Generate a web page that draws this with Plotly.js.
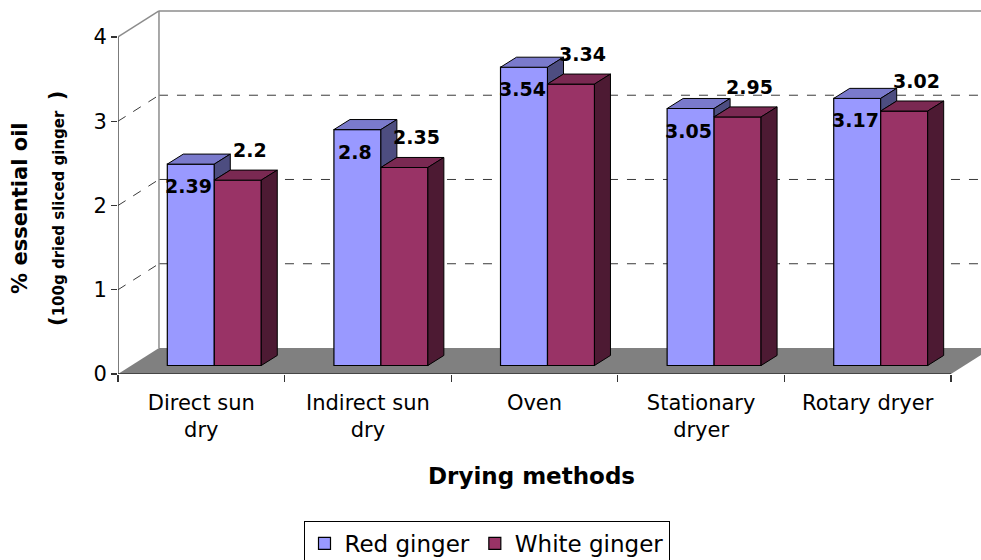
<!DOCTYPE html>
<html>
<head>
<meta charset="utf-8">
<script src="https://cdn.plot.ly/plotly-3.0.1.min.js"></script>
<style>html,body{margin:0;padding:0;background:#fff;}</style>
</head>
<body>
<div id="chart" style="width:981px;height:560px;"></div>
<script>
// ---- data ----
const categories = ['Direct sun dry', 'Indirect sun dry', 'Oven', 'Stationary dryer', 'Rotary dryer'];
const tickLabels = ['Direct sun<br>dry', 'Indirect sun<br>dry', 'Oven', 'Stationary<br>dryer', 'Rotary dryer'];
const redGinger = [2.39, 2.8, 3.54, 3.05, 3.17];
const whiteGinger = [2.2, 2.35, 3.34, 2.95, 3.02];
const yTicks = [0, 1, 2, 3, 4];
const seriesNames = ['Red ginger', 'White ginger'];

// ---- style / geometry ----
const FONT = 'DejaVu Sans';
const RED = '#9999FF', RED_TOP = '#7A7ACC', RED_SIDE = '#4D4D80';
const WHT = '#993366', WHT_TOP = '#7A2952', WHT_SIDE = '#4D1A33';
const WALL_DX = 0.246, WALL_DY = 0.3086;   // depth of the 3D box (axis units)
const BAR_DX = 0.096, BAR_DY = 0.119;      // depth of each bar (axis units)
const BARGAP = 0.436;
const BW = (1 - BARGAP) / 2;
const X_RANGE = [-0.5, 4.68];
const Y_RANGE = [0, 4.332];
const X2_RANGE = [X_RANGE[0] - 0.078, X_RANGE[1] - 0.078];
const Y2_RANGE = [Y_RANGE[0] - 0.101, Y_RANGE[1] - 0.101];

const idx = categories.map((c, i) => i);
const n = categories.length;
const xLeft = -0.5, xRight = n - 0.5;
const yMax = yTicks[yTicks.length - 1];

function polyTrace(polys, fill) {
  const xs = [], ys = [];
  polys.forEach(p => { p.forEach(pt => { xs.push(pt[0]); ys.push(pt[1]); }); xs.push(p[0][0]); ys.push(p[0][1]); xs.push(null); ys.push(null); });
  return { type: 'scatter', mode: 'lines', x: xs, y: ys, fill: 'toself', fillcolor: fill,
    line: { color: '#000', width: 1 }, xaxis: 'x2', yaxis: 'y2', showlegend: false, hoverinfo: 'skip' };
}

const redTop = idx.map(i => { const v = redGinger[i]; return [[i - BW, v], [i, v], [i + BAR_DX, v + BAR_DY], [i - BW + BAR_DX, v + BAR_DY]]; });
const redSide = idx.filter(i => redGinger[i] > whiteGinger[i]).map(i => { const v = redGinger[i], w = whiteGinger[i]; return [[i, w], [i, v], [i + BAR_DX, v + BAR_DY], [i + BAR_DX, w + BAR_DY]]; });
const whtTop = idx.map(i => { const w = whiteGinger[i]; return [[i, w], [i + BW, w], [i + BW + BAR_DX, w + BAR_DY], [i + BAR_DX, w + BAR_DY]]; });
const whtSide = idx.map(i => { const w = whiteGinger[i]; return [[i + BW, 0], [i + BW, w], [i + BW + BAR_DX, w + BAR_DY], [i + BW + BAR_DX, BAR_DY]]; });

const traces = [
  { type: 'bar', name: seriesNames[0], x: idx, y: redGinger, xaxis: 'x2', yaxis: 'y2',
    marker: { color: RED, line: { color: '#000', width: 1.2 } }, hoverinfo: 'y' },
  { type: 'bar', name: seriesNames[1], x: idx, y: whiteGinger, xaxis: 'x2', yaxis: 'y2',
    marker: { color: WHT, line: { color: '#000', width: 1.2 } }, hoverinfo: 'y' },
  polyTrace(redTop, RED_TOP),
  polyTrace(redSide, RED_SIDE),
  polyTrace(whtTop, WHT_TOP),
  polyTrace(whtSide, WHT_SIDE)
];

// ---- 3D box: floor, walls, gridlines ----
const shapes = [];
shapes.push({ type: 'path', xref: 'x', yref: 'y', layer: 'below',
  path: `M${xLeft},0 L${xRight},0 L${xRight + WALL_DX},${WALL_DY} L${xLeft + WALL_DX},${WALL_DY} Z`,
  fillcolor: '#808080', line: { width: 0 } });
yTicks.filter(t => t > 0).forEach(t => {
  const top = t === yMax;
  const ln = top ? { color: '#8c8c8c', width: 1.5 } : { color: '#3a3a3a', width: 1, dash: 'dash' };
  shapes.push({ type: 'line', xref: 'x', yref: 'y', layer: 'below', x0: xLeft, y0: t, x1: xLeft + WALL_DX, y1: t + WALL_DY, line: ln });
  shapes.push({ type: 'line', xref: 'x', yref: 'y', layer: 'below', x0: xLeft + WALL_DX, y0: t + WALL_DY, x1: X_RANGE[1] + 1, y1: t + WALL_DY, line: ln });
});
shapes.push({ type: 'line', xref: 'x', yref: 'y', layer: 'below', x0: xLeft + WALL_DX, y0: WALL_DY, x1: xLeft + WALL_DX, y1: yMax + WALL_DY, line: { color: '#8c8c8c', width: 1.5 } });
// front axes
shapes.push({ type: 'line', xref: 'x', yref: 'y', layer: 'above', x0: xLeft, y0: 0, x1: xRight, y1: 0, line: { color: '#333', width: 1.3 } });
shapes.push({ type: 'line', xref: 'x', yref: 'y', layer: 'above', x0: xLeft, y0: 0, x1: xLeft, y1: yMax, line: { color: '#333', width: 1.3 } });

// ---- annotations: data labels and axis titles ----
const annotations = [];
const lblFont = { family: FONT, size: 19, color: '#000', weight: 'bold' };
idx.forEach(i => {
  annotations.push({ xref: 'x2', yref: 'y2', x: i - BW / 2, y: redGinger[i], text: String(redGinger[i]),
    showarrow: false, yshift: -22, xshift: -2, font: lblFont });
  annotations.push({ xref: 'x2', yref: 'y2', x: i + BW / 2, y: whiteGinger[i], text: String(whiteGinger[i]),
    showarrow: false, yshift: 30, xshift: 12, font: lblFont });
});
annotations.push({ xref: 'paper', yref: 'paper', x: 0.4786, y: -0.279, text: 'Drying methods', showarrow: false,
  xanchor: 'center', yanchor: 'middle', font: { family: FONT, size: 23, color: '#000', weight: 'bold' } });
annotations.push({ xref: 'paper', yref: 'paper', x: -0.1136, y: 0.4548, text: '% essential oil', showarrow: false,
  textangle: -90, xanchor: 'center', yanchor: 'middle', font: { family: FONT, size: 21, color: '#000', weight: 'bold' } });
annotations.push({ xref: 'paper', yref: 'paper', x: -0.0707, y: 0.4548,
  text: '<span style="font-size:21px">(</span>100g dried sliced ginger  <span style="font-size:21px">)</span>', showarrow: false,
  textangle: -90, xanchor: 'center', yanchor: 'middle', font: { family: FONT, size: 15, color: '#000', weight: 'bold' } });

const layout = {
  width: 981, height: 560,
  margin: { l: 118, r: 0, t: 9, b: 186, autoexpand: false },
  paper_bgcolor: '#fff', plot_bgcolor: 'rgba(0,0,0,0)',
  font: { family: FONT, color: '#000' },
  barmode: 'group', bargap: BARGAP, bargroupgap: 0,
  xaxis: { type: 'linear', range: X_RANGE, tickmode: 'array', tickvals: idx, ticktext: tickLabels,
    ticks: '', showgrid: false, zeroline: false, showline: false, fixedrange: true, ticklabelstandoff: 14,
    tickfont: { family: FONT, size: 21, color: '#000' },
    minor: { tick0: -0.5, dtick: 1, ticks: 'outside', ticklen: 7, tickcolor: '#333', tickwidth: 1.3, showgrid: false } },
  yaxis: { range: Y_RANGE, tickmode: 'array', tickvals: yTicks, ticks: 'outside', ticklen: 6, tickcolor: '#333', tickwidth: 1.3,
    showgrid: false, zeroline: false, showline: false, fixedrange: true,
    tickfont: { family: FONT, size: 21, color: '#000' } },
  xaxis2: { type: 'linear', range: X2_RANGE, overlaying: 'x', visible: false, fixedrange: true },
  yaxis2: { range: Y2_RANGE, overlaying: 'y', visible: false, fixedrange: true },
  showlegend: true,
  legend: { orientation: 'h', x: 0.427, xanchor: 'center', y: -0.4027, yanchor: 'top',
    bordercolor: '#000', borderwidth: 1, bgcolor: '#fff', itemwidth: 30,
    font: { family: FONT, size: 23, color: '#000' }, traceorder: 'normal' },
  shapes: shapes,
  annotations: annotations
};

Plotly.newPlot('chart', traces, layout, { displayModeBar: false, staticPlot: true });
</script>
</body>
</html>
